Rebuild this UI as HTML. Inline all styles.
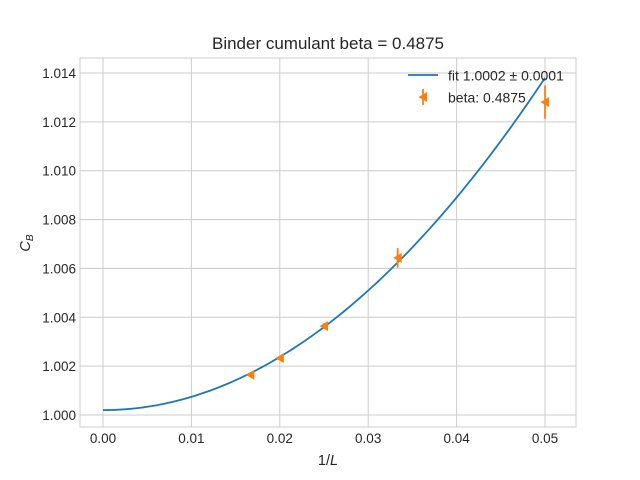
<!DOCTYPE html>
<html><head><meta charset="utf-8"><style>
body{margin:0;background:#fff;}
svg{display:block;font-family:"Liberation Sans",sans-serif;}
</style></head><body>
<svg id="chart" width="640" height="480"></svg>
<script>
const xTicks=[0,0.01,0.02,0.03,0.04,0.05];
const xTickLabels=["0.00","0.01","0.02","0.03","0.04","0.05"];
const yTicks=[1.000,1.002,1.004,1.006,1.008,1.010,1.012,1.014];
const yTickLabels=["1.000","1.002","1.004","1.006","1.008","1.010","1.012","1.014"];
const xData=[1/60,1/50,1/40,1/30,1/20];
const yData=[1.00164,1.00233,1.00364,1.00643,1.01281];
const yErr=[0.00005,0.00008,0.00012,0.0004,0.00068];
const fitC0=[1.0002];
const fitC2=[5.44];
const NS="http://www.w3.org/2000/svg";
const svg=document.getElementById('chart');
const X=v=>103+(v-0)*8840;
const Y=v=>415-(v-1.000)*24428.6;
function mk(t,a,p){const e=document.createElementNS(NS,t);for(const k in a)e.setAttribute(k,a[k]);(p||svg).appendChild(e);return e;}
const L=80,R=576,T=58,B=427;
mk('rect',{x:L,y:T,width:R-L,height:B-T,fill:'#fff'});
xTicks.forEach((v,i)=>{
 const g=mk('line',{x1:X(v),x2:X(v),y1:T,y2:B,stroke:'#cccccc','stroke-width':1});
 
 
 const t=mk('text',{x:X(v),y:443,'font-size':13.5,'text-anchor':'middle',fill:'#262626'});
 t.textContent=xTickLabels[i];
 
 
});
yTicks.forEach((v,i)=>{
 const g=mk('line',{x1:L,x2:R,y1:Y(v),y2:Y(v),stroke:'#cccccc','stroke-width':1});
 
 
 const t=mk('text',{x:76,y:Y(v)+5,'font-size':13.5,'text-anchor':'end',fill:'#262626'});
 t.textContent=yTickLabels[i];
 
 
});
const fr=mk('rect',{x:L,y:T,width:R-L,height:B-T,fill:'none',stroke:'#cccccc','stroke-width':1});


let d='';
for(let i=0;i<=100;i++){const x=0.05*i/100;const y=fitC0[0]+fitC2[0]*x*x;d+=(i?'L':'M')+X(x).toFixed(2)+','+Y(y).toFixed(2);}
const fit=mk('path',{d:d,fill:'none',stroke:'#1f77b4','stroke-width':1.8});


xData.forEach((x,i)=>{
 const cx=X(x),cy=Y(yData[i]);
 const eb=mk('line',{x1:cx,x2:cx,y1:Y(yData[i]+yErr[i]),y2:Y(yData[i]-yErr[i]),stroke:'#ff7f0e','stroke-width':1.8});
 
 
 const m=mk('polygon',{points:`${cx-4.5},${cy} ${cx+4},${cy-5} ${cx+4},${cy+5}`,fill:'#ff7f0e'});
 
 
});
</script>
<svg style="position:absolute;left:0;top:0" width="640" height="480">
<text x="328" y="49" font-size="17" text-anchor="middle" fill="#262626" font-family="Liberation Sans,sans-serif">Binder cumulant beta = 0.4875</text>
<text x="328" y="465" font-size="14.5" text-anchor="middle" fill="#262626" font-family="Liberation Sans,sans-serif">1/<tspan font-style="italic">L</tspan></text>
<text transform="translate(30,243) rotate(-90)" font-size="14.5" text-anchor="middle" fill="#262626" font-family="Liberation Sans,sans-serif"><tspan font-style="italic">C</tspan><tspan font-style="italic" font-size="10" dy="3">B</tspan></text>
<g font-family="Liberation Sans,sans-serif" font-size="14" fill="#262626">
<line x1="408" x2="438" y1="75" y2="75" stroke="#1f77b4" stroke-width="1.8"/>
<text x="448" y="80.5">fit 1.0002 ± 0.0001</text>
<line x1="423" x2="423" y1="89" y2="105" stroke="#ff7f0e" stroke-width="1.8"/>
<polygon points="418.5,97 427,92 427,102" fill="#ff7f0e"/>
<text x="448" y="102.5">beta: 0.4875</text>
</g>
</svg>
</body></html>
